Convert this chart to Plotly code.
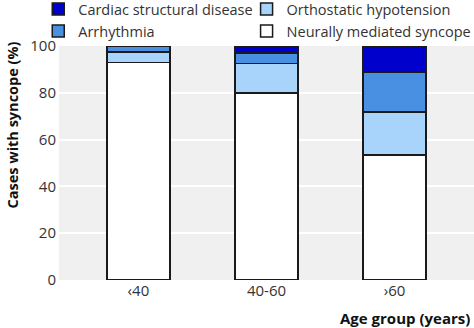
import plotly.graph_objects as go

categories = ["‹40", "40-60", "›60"]
neurally = [93.0, 80.0, 53.5]
orthostatic = [4.5, 12.6, 18.3]
arrhythmia = [2.5, 4.5, 16.9]
cardiac = [0.0, 2.9, 11.3]

FONT = "Open Sans"
line = dict(color="#1a1a1a", width=1.5)

fig = go.Figure()
fig.add_bar(x=categories, y=neurally, name="Neurally mediated syncope",
            marker=dict(color="#ffffff", line=line), legend="legend2")
fig.add_bar(x=categories, y=orthostatic, name="Orthostatic hypotension",
            marker=dict(color="#a8d4fb", line=line), legend="legend2")
fig.add_bar(x=categories, y=arrhythmia, name="Arrhythmia",
            marker=dict(color="#4a90e2", line=line), legend="legend")
fig.add_bar(x=categories, y=cardiac, name="Cardiac structural disease",
            marker=dict(color="#0000cc", line=line), legend="legend")

legend_common = dict(orientation="v", traceorder="reversed", yanchor="top",
                     xanchor="left", tracegroupgap=0, bgcolor="rgba(0,0,0,0)",
                     font=dict(family=FONT, size=14.5, color="#333333"),
                     itemwidth=30)

fig.update_layout(
    width=474, height=328,
    margin=dict(l=59, r=0, t=46, b=48, autoexpand=False),
    paper_bgcolor="white", plot_bgcolor="#f0f0f0",
    barmode="stack", bargap=0.51,
    font=dict(family=FONT, size=15, color="#333333"),
    legend=dict(x=-0.05, y=1.226, **legend_common),
    legend2=dict(x=0.452, y=1.226, **legend_common),
    xaxis=dict(range=[-0.62, 2.62], showgrid=False, zeroline=False,
               ticks="", tickfont=dict(size=15, color="#333333")),
    yaxis=dict(range=[0, 100], tickvals=[0, 20, 40, 60, 80, 100],
               gridcolor="white", gridwidth=2, zeroline=False,
               ticks="", ticklabelstandoff=2,
               tickfont=dict(size=15, color="#333333")),
    annotations=[
        dict(text="<b>Cases with syncope (%)</b>", xref="paper", yref="paper",
             x=-0.113, y=1.026, xanchor="center", yanchor="top", textangle=-90,
             showarrow=False, font=dict(family=FONT, size=14.5, color="#111111")),
        dict(text="<b>Age group (years)</b>", xref="paper", yref="paper",
             x=0.995, y=-0.162, xanchor="right", yanchor="middle",
             showarrow=False, font=dict(family=FONT, size=15, color="#111111")),
    ],
)

fig.write_html("out.html")
